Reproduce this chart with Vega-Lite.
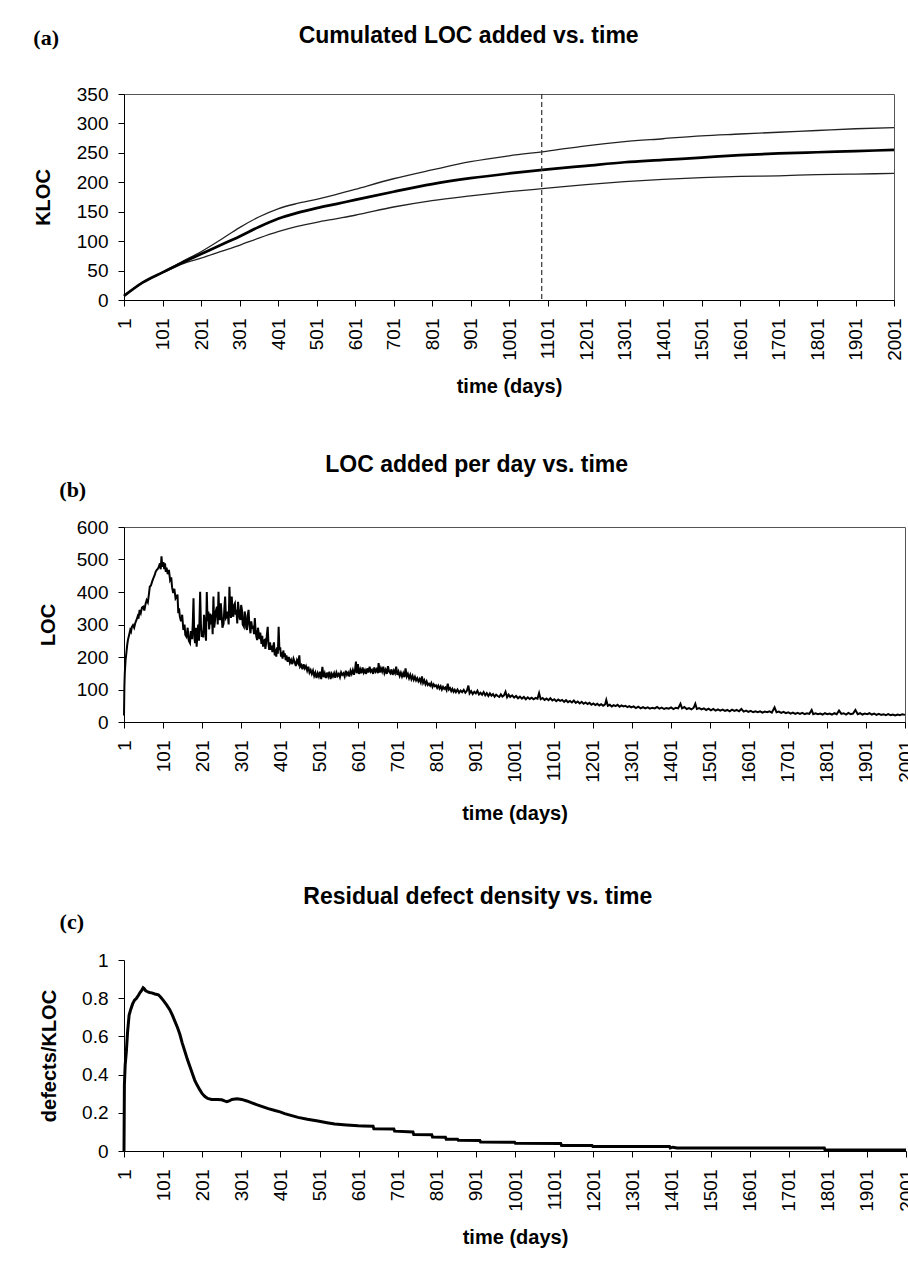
{
  "$schema": "https://vega.github.io/schema/vega-lite/v6.json",
  "background": "white",
  "padding": {"left": 32, "top": 24, "right": 0, "bottom": 0},
  "spacing": 56,
  "config": {
    "font": "Liberation Sans",
    "view": {"stroke": "#555", "strokeWidth": 1},
    "axis": {
      "labelFont": "Liberation Sans", "labelFontSize": 19, "labelColor": "black",
      "titleFont": "Liberation Sans", "titleFontSize": 20, "titleFontWeight": "bold", "titleColor": "black",
      "domainColor": "black", "tickColor": "black", "tickSize": 6, "grid": false, "labelPadding": 10,
      "labelFlush": false, "labelOverlap": false, "labelBound": false
    },
    "axisX": {"labelAngle": -90, "labelPadding": 12, "titlePadding": 16, "format": "d", "labelOverlap": false},
    "title": {"font": "Liberation Sans", "fontSize": 23, "fontWeight": "bold", "color": "black"}
  },
  "datasets": {
    "cum": [
      {"t": 1, "mid": 7, "up": 7, "low": 7},
      {"t": 50, "mid": 30, "up": 30, "low": 30},
      {"t": 101, "mid": 47, "up": 47, "low": 46},
      {"t": 151, "mid": 63, "up": 65, "low": 61},
      {"t": 201, "mid": 78, "up": 82, "low": 71},
      {"t": 251, "mid": 93, "up": 102, "low": 82},
      {"t": 301, "mid": 108, "up": 123, "low": 93},
      {"t": 351, "mid": 124, "up": 141, "low": 105},
      {"t": 401, "mid": 138, "up": 155, "low": 116},
      {"t": 451, "mid": 148, "up": 164, "low": 125},
      {"t": 501, "mid": 156, "up": 171, "low": 132},
      {"t": 551, "mid": 163, "up": 179, "low": 138},
      {"t": 601, "mid": 170, "up": 188, "low": 144},
      {"t": 701, "mid": 184, "up": 206, "low": 158},
      {"t": 801, "mid": 197, "up": 221, "low": 169},
      {"t": 901, "mid": 207, "up": 235, "low": 177},
      {"t": 1001, "mid": 215, "up": 245, "low": 184},
      {"t": 1101, "mid": 222, "up": 253, "low": 190},
      {"t": 1201, "mid": 228, "up": 262, "low": 196},
      {"t": 1301, "mid": 234, "up": 269, "low": 201},
      {"t": 1401, "mid": 238, "up": 274, "low": 205},
      {"t": 1501, "mid": 242, "up": 279, "low": 208},
      {"t": 1601, "mid": 246, "up": 282, "low": 210},
      {"t": 1701, "mid": 249, "up": 285, "low": 211},
      {"t": 1801, "mid": 251, "up": 288, "low": 213},
      {"t": 1901, "mid": 253, "up": 291, "low": 214},
      {"t": 2001, "mid": 255, "up": 293, "low": 215}
    ],
    "marker": [{"t": 1086}],
    "perday": [
      {"t":1,"v":20},{"t":2,"v":110},{"t":3,"v":150},{"t":5,"v":190},{"t":7,"v":212},{"t":9,"v":235},{"t":11,"v":252},{"t":13,"v":262},{"t":15,"v":272},{"t":17,"v":283},{"t":19,"v":278},{"t":21,"v":292},{"t":24,"v":298},{"t":27,"v":290},{"t":30,"v":305},{"t":33,"v":314},{"t":36,"v":325},{"t":38,"v":318},{"t":41,"v":345},{"t":44,"v":335},{"t":47,"v":352},{"t":50,"v":355},{"t":53,"v":343},{"t":56,"v":362},{"t":59,"v":375},{"t":62,"v":368},{"t":65,"v":395},{"t":67,"v":416},{"t":70,"v":420},{"t":73,"v":432},{"t":76,"v":442},{"t":79,"v":450},{"t":82,"v":462},{"t":85,"v":468},{"t":88,"v":472},{"t":91,"v":480},{"t":93,"v":488},{"t":95,"v":470},{"t":97,"v":510},{"t":99,"v":478},{"t":102,"v":492},{"t":104,"v":470},{"t":106,"v":488},{"t":108,"v":462},{"t":110,"v":475},{"t":113,"v":455},{"t":116,"v":468},{"t":119,"v":437},{"t":122,"v":445},{"t":124,"v":415},{"t":127,"v":397},{"t":130,"v":410},{"t":133,"v":380},{"t":136,"v":386},{"t":138,"v":392},{"t":140,"v":335},{"t":142,"v":350},{"t":144,"v":324},{"t":147,"v":310},{"t":150,"v":330},
      {"t":153,"v":283},{"t":156,"v":300},{"t":158,"v":268},{"t":161,"v":262},{"t":164,"v":290},{"t":167,"v":250},{"t":170,"v":243},{"t":172,"v":280},{"t":175,"v":255},{"t":177,"v":300},{"t":179,"v":381},{"t":181,"v":260},{"t":183,"v":243},{"t":185,"v":290},{"t":187,"v":232},{"t":189,"v":270},{"t":191,"v":300},{"t":193,"v":250},{"t":196,"v":401},{"t":198,"v":300},{"t":200,"v":262},{"t":202,"v":280},{"t":204,"v":260},{"t":206,"v":330},{"t":208,"v":300},{"t":211,"v":250},{"t":213,"v":400},{"t":215,"v":310},{"t":217,"v":340},{"t":219,"v":285},{"t":222,"v":334},{"t":224,"v":300},{"t":226,"v":330},{"t":228,"v":270},{"t":230,"v":386},{"t":232,"v":290},{"t":234,"v":310},{"t":236,"v":340},{"t":239,"v":355},{"t":241,"v":300},{"t":243,"v":401},{"t":245,"v":320},{"t":247,"v":314},{"t":249,"v":365},{"t":251,"v":330},{"t":253,"v":290},{"t":256,"v":303},{"t":258,"v":350},{"t":260,"v":386},{"t":262,"v":320},{"t":264,"v":324},{"t":266,"v":340},{"t":269,"v":300},{"t":271,"v":416},{"t":273,"v":345},{"t":275,"v":320},{"t":277,"v":386},{"t":279,"v":330},{"t":281,"v":324},{"t":283,"v":360},{"t":285,"v":365},{"t":287,"v":330},{"t":289,"v":345},{"t":291,"v":303},{"t":293,"v":370},{"t":295,"v":345},{"t":297,"v":320},{"t":299,"v":314},{"t":301,"v":360},{"t":303,"v":345},{"t":305,"v":300},{"t":308,"v":293},{"t":310,"v":340},{"t":312,"v":324},{"t":314,"v":290},{"t":316,"v":283},{"t":318,"v":330},{"t":320,"v":345},{"t":322,"v":300},{"t":325,"v":273},{"t":327,"v":310},{"t":329,"v":290},{"t":332,"v":293},{"t":334,"v":270},{"t":336,"v":320},{"t":338,"v":280},{"t":340,"v":262},{"t":342,"v":252},{"t":344,"v":290},{"t":346,"v":273},{"t":348,"v":255},{"t":350,"v":275},{"t":353,"v":240},{"t":355,"v":265},{"t":357,"v":232},{"t":359,"v":250},{"t":361,"v":252},{"t":363,"v":225},{"t":365,"v":243},{"t":367,"v":270},{"t":369,"v":293},{"t":371,"v":240},{"t":373,"v":222},{"t":375,"v":245},{"t":377,"v":222},{"t":379,"v":235},{"t":381,"v":215},{"t":383,"v":232},{"t":385,"v":245},{"t":387,"v":205},{"t":389,"v":225},{"t":391,"v":201},{"t":393,"v":230},{"t":395,"v":210},{"t":397,"v":293},{"t":399,"v":222},{"t":401,"v":230},{"t":403,"v":201},{"t":405,"v":215},{"t":407,"v":195},{"t":409,"v":220},{"t":411,"v":201},{"t":413,"v":211},{"t":415,"v":190},{"t":417,"v":205},
      {"t":420,"v":185},{"t":423,"v":200},{"t":426,"v":182},{"t":429,"v":191},{"t":432,"v":178},{"t":435,"v":195},{"t":438,"v":185},{"t":441,"v":172},{"t":444,"v":190},{"t":447,"v":181},{"t":450,"v":205},{"t":452,"v":170},{"t":455,"v":175},{"t":458,"v":162},{"t":461,"v":178},{"t":464,"v":165},{"t":467,"v":172},{"t":470,"v":158},{"t":473,"v":170},{"t":476,"v":152},{"t":479,"v":160},{"t":482,"v":148},{"t":485,"v":158},{"t":488,"v":142},{"t":491,"v":152},{"t":494,"v":135},{"t":497,"v":150},{"t":500,"v":140},{"t":503,"v":155},{"t":506,"v":132},{"t":509,"v":170},{"t":512,"v":138},{"t":515,"v":150},{"t":518,"v":135},{"t":521,"v":152},{"t":524,"v":140},{"t":527,"v":155},{"t":530,"v":132},{"t":533,"v":148},{"t":536,"v":140},{"t":539,"v":150},{"t":542,"v":136},{"t":545,"v":152},{"t":548,"v":142},{"t":551,"v":148},{"t":554,"v":138},{"t":557,"v":153},{"t":560,"v":145},{"t":563,"v":150},{"t":566,"v":140},{"t":569,"v":158},{"t":572,"v":145},{"t":575,"v":152},{"t":578,"v":140},{"t":581,"v":158},{"t":584,"v":148},{"t":587,"v":160},{"t":590,"v":145},{"t":593,"v":165},{"t":595,"v":186},{"t":597,"v":150},{"t":600,"v":178},{"t":603,"v":148},{"t":606,"v":162},{"t":609,"v":150},{"t":612,"v":168},{"t":615,"v":152},{"t":618,"v":160},{"t":621,"v":148},{"t":624,"v":165},{"t":627,"v":152},{"t":630,"v":170},{"t":633,"v":155},{"t":636,"v":160},{"t":639,"v":148},{"t":642,"v":168},{"t":645,"v":155},{"t":648,"v":162},{"t":651,"v":150},{"t":653,"v":181},{"t":656,"v":152},{"t":659,"v":165},{"t":662,"v":155},{"t":665,"v":170},{"t":668,"v":150},{"t":671,"v":160},{"t":674,"v":148},{"t":677,"v":172},{"t":680,"v":155},{"t":683,"v":150},{"t":686,"v":162},{"t":689,"v":145},{"t":692,"v":158},{"t":695,"v":150},{"t":698,"v":170},{"t":701,"v":145},{"t":704,"v":155},{"t":707,"v":142},{"t":710,"v":152},{"t":713,"v":140},{"t":716,"v":150},{"t":719,"v":138},{"t":722,"v":165},{"t":725,"v":140},{"t":728,"v":148},{"t":731,"v":135},{"t":734,"v":145},{"t":737,"v":132},{"t":740,"v":142},{"t":743,"v":130},{"t":746,"v":139},{"t":749,"v":128},{"t":752,"v":135},{"t":755,"v":125},{"t":758,"v":132},{"t":761,"v":122},{"t":764,"v":140},{"t":767,"v":120},{"t":770,"v":128},{"t":773,"v":116},{"t":776,"v":125},{"t":779,"v":114},{"t":782,"v":118},{"t":785,"v":112},{"t":788,"v":120},{"t":791,"v":108},{"t":794,"v":116},{"t":797,"v":110},{"t":800,"v":113},{"t":803,"v":105},{"t":806,"v":112},{"t":809,"v":103},{"t":812,"v":110},{"t":815,"v":100},{"t":818,"v":108},{"t":821,"v":102},{"t":824,"v":106},{"t":827,"v":98},{"t":830,"v":118},{"t":833,"v":100},{"t":836,"v":104},{"t":839,"v":95},{"t":842,"v":102},{"t":845,"v":93},{"t":848,"v":99},{"t":851,"v":92},{"t":855,"v":100},{"t":859,"v":90},{"t":863,"v":97},{"t":867,"v":92},{"t":871,"v":99},{"t":875,"v":90},{"t":879,"v":96},{"t":883,"v":112},{"t":886,"v":88},{"t":890,"v":95},{"t":894,"v":86},{"t":898,"v":93},{"t":902,"v":88},{"t":906,"v":96},{"t":910,"v":85},{"t":914,"v":90},{"t":918,"v":84},{"t":922,"v":92},{"t":926,"v":82},{"t":930,"v":89},{"t":934,"v":80},{"t":938,"v":88},{"t":942,"v":81},{"t":946,"v":86},{"t":950,"v":78},{"t":954,"v":84},{"t":958,"v":80},{"t":962,"v":77},{"t":966,"v":85},{"t":970,"v":78},{"t":974,"v":82},{"t":978,"v":93},{"t":982,"v":76},{"t":986,"v":84},{"t":990,"v":77},{"t":995,"v":82},
      {"t":1000,"v":75},{"t":1005,"v":80},{"t":1010,"v":73},{"t":1015,"v":78},{"t":1020,"v":72},{"t":1025,"v":77},{"t":1030,"v":70},{"t":1035,"v":76},{"t":1040,"v":71},{"t":1045,"v":75},{"t":1050,"v":70},{"t":1055,"v":74},{"t":1060,"v":72},{"t":1064,"v":89},{"t":1068,"v":70},{"t":1073,"v":74},{"t":1078,"v":68},{"t":1083,"v":72},{"t":1088,"v":67},{"t":1093,"v":73},{"t":1098,"v":66},{"t":1103,"v":70},{"t":1108,"v":64},{"t":1113,"v":69},{"t":1118,"v":65},{"t":1123,"v":68},{"t":1128,"v":62},{"t":1133,"v":67},{"t":1138,"v":61},{"t":1143,"v":65},{"t":1148,"v":60},{"t":1153,"v":66},{"t":1158,"v":59},{"t":1163,"v":63},{"t":1168,"v":57},{"t":1173,"v":62},{"t":1178,"v":56},{"t":1183,"v":60},{"t":1188,"v":55},{"t":1193,"v":59},{"t":1198,"v":53},{"t":1203,"v":57},{"t":1208,"v":52},{"t":1213,"v":56},{"t":1218,"v":51},{"t":1223,"v":55},{"t":1228,"v":50},{"t":1233,"v":54},{"t":1236,"v":68},{"t":1240,"v":50},{"t":1245,"v":53},{"t":1250,"v":48},{"t":1255,"v":52},{"t":1260,"v":49},{"t":1265,"v":53},{"t":1270,"v":47},{"t":1275,"v":51},{"t":1280,"v":48},{"t":1285,"v":50},{"t":1290,"v":46},{"t":1295,"v":49},{"t":1300,"v":45},{"t":1306,"v":48},{"t":1312,"v":43},{"t":1318,"v":47},{"t":1324,"v":42},{"t":1330,"v":46},{"t":1336,"v":42},{"t":1342,"v":45},{"t":1348,"v":41},{"t":1354,"v":44},{"t":1360,"v":42},{"t":1366,"v":46},{"t":1372,"v":41},{"t":1378,"v":44},{"t":1384,"v":40},{"t":1390,"v":43},{"t":1396,"v":41},{"t":1402,"v":45},{"t":1408,"v":40},{"t":1414,"v":44},{"t":1420,"v":42},{"t":1426,"v":56},{"t":1430,"v":42},{"t":1436,"v":46},{"t":1442,"v":40},{"t":1448,"v":43},{"t":1454,"v":39},{"t":1460,"v":44},{"t":1464,"v":56},{"t":1468,"v":40},{"t":1474,"v":43},{"t":1480,"v":39},{"t":1486,"v":42},{"t":1492,"v":37},{"t":1498,"v":41},{"t":1504,"v":36},{"t":1510,"v":40},{"t":1516,"v":35},{"t":1522,"v":39},{"t":1528,"v":35},{"t":1534,"v":38},{"t":1540,"v":34},{"t":1546,"v":37},{"t":1552,"v":33},{"t":1558,"v":38},{"t":1564,"v":34},{"t":1570,"v":37},{"t":1576,"v":33},{"t":1582,"v":40},{"t":1588,"v":32},{"t":1594,"v":35},{"t":1600,"v":31},{"t":1606,"v":34},{"t":1612,"v":30},{"t":1618,"v":33},{"t":1624,"v":30},{"t":1630,"v":33},{"t":1636,"v":29},{"t":1642,"v":32},{"t":1648,"v":30},{"t":1654,"v":33},{"t":1660,"v":29},{"t":1667,"v":45},{"t":1672,"v":30},{"t":1678,"v":32},{"t":1684,"v":28},{"t":1690,"v":31},{"t":1696,"v":27},{"t":1702,"v":30},{"t":1708,"v":26},{"t":1714,"v":29},{"t":1720,"v":25},{"t":1726,"v":28},{"t":1732,"v":25},{"t":1738,"v":28},{"t":1744,"v":24},{"t":1750,"v":27},{"t":1756,"v":25},{"t":1762,"v":37},{"t":1766,"v":24},{"t":1772,"v":27},{"t":1778,"v":24},{"t":1784,"v":26},{"t":1790,"v":23},{"t":1796,"v":27},{"t":1802,"v":24},{"t":1808,"v":26},{"t":1814,"v":23},{"t":1820,"v":27},{"t":1826,"v":24},{"t":1832,"v":35},{"t":1838,"v":25},{"t":1844,"v":27},{"t":1850,"v":23},{"t":1856,"v":28},{"t":1862,"v":24},{"t":1868,"v":26},{"t":1874,"v":37},{"t":1880,"v":24},{"t":1886,"v":27},{"t":1892,"v":23},{"t":1898,"v":26},{"t":1904,"v":24},{"t":1910,"v":27},{"t":1916,"v":23},{"t":1922,"v":26},{"t":1928,"v":22},{"t":1934,"v":25},{"t":1940,"v":22},{"t":1946,"v":24},{"t":1952,"v":21},{"t":1958,"v":24},{"t":1964,"v":21},{"t":1970,"v":23},{"t":1976,"v":20},{"t":1982,"v":23},{"t":1988,"v":21},{"t":1994,"v":24},{"t":2001,"v":22}
    ],
    "density": [
      {"t":1,"v":0},{"t":2,"v":0.345},{"t":4,"v":0.45},{"t":7,"v":0.52},{"t":10,"v":0.62},{"t":14,"v":0.71},{"t":18,"v":0.74},{"t":23,"v":0.77},{"t":28,"v":0.79},{"t":33,"v":0.8},{"t":38,"v":0.815},{"t":42,"v":0.83},{"t":46,"v":0.84},{"t":50,"v":0.855},{"t":53,"v":0.85},{"t":56,"v":0.84},{"t":60,"v":0.835},{"t":66,"v":0.83},{"t":72,"v":0.828},{"t":80,"v":0.822},{"t":89,"v":0.818},{"t":95,"v":0.805},{"t":101,"v":0.79},{"t":110,"v":0.765},{"t":118,"v":0.74},{"t":125,"v":0.71},{"t":131,"v":0.68},{"t":138,"v":0.645},{"t":144,"v":0.61},{"t":150,"v":0.565},{"t":157,"v":0.52},{"t":163,"v":0.48},{"t":170,"v":0.44},{"t":176,"v":0.405},{"t":182,"v":0.37},{"t":188,"v":0.345},{"t":195,"v":0.32},{"t":201,"v":0.3},{"t":208,"v":0.285},{"t":215,"v":0.275},{"t":225,"v":0.27},{"t":240,"v":0.27},{"t":251,"v":0.268},{"t":258,"v":0.262},{"t":264,"v":0.258},{"t":270,"v":0.262},{"t":277,"v":0.27},{"t":290,"v":0.273},{"t":302,"v":0.27},{"t":315,"v":0.262},{"t":328,"v":0.252},{"t":340,"v":0.243},{"t":353,"v":0.234},{"t":370,"v":0.222},{"t":387,"v":0.212},{"t":400,"v":0.205},{"t":412,"v":0.196},{"t":430,"v":0.185},{"t":446,"v":0.176},{"t":470,"v":0.166},{"t":497,"v":0.157},{"t":520,"v":0.148},{"t":540,"v":0.141},{"t":570,"v":0.136},{"t":600,"v":0.132},{"t":613,"v":0.131},{"t":638,"v":0.13},{"t":640,"v":0.116},{"t":691,"v":0.115},{"t":693,"v":0.104},{"t":740,"v":0.1},{"t":742,"v":0.086},{"t":788,"v":0.085},{"t":790,"v":0.073},{"t":823,"v":0.072},{"t":825,"v":0.062},{"t":854,"v":0.061},{"t":856,"v":0.056},{"t":911,"v":0.055},{"t":913,"v":0.047},{"t":1000,"v":0.046},{"t":1002,"v":0.04},{"t":1118,"v":0.039},{"t":1120,"v":0.029},{"t":1198,"v":0.029},{"t":1200,"v":0.024},{"t":1396,"v":0.024},{"t":1398,"v":0.016},{"t":1405,"v":0.02},{"t":1415,"v":0.016},{"t":1792,"v":0.016},{"t":1794,"v":0.005},{"t":2001,"v":0.005}
    ]
  },
  "vconcat": [
    {
      "title": {"text": "Cumulated LOC added vs. time", "anchor": "middle", "frame": "bounds", "offset": -21},
      "vconcat": [
        {
          "title": {"text": "(a)", "anchor": "start", "frame": "bounds", "font": "Liberation Serif", "fontSize": 22, "fontWeight": "bold", "offset": 35},
          "width": 770,
          "height": 206,
          "data": {"name": "cum"},
          "layer": [
            {
              "mark": {"type": "line", "color": "#222", "strokeWidth": 1.3, "interpolate": "monotone"},
              "encoding": {
                "x": {"field": "t", "type": "quantitative", "scale": {"domain": [1, 2001], "nice": false, "zero": false},
                      "axis": {"title": "time (days)", "labelOverlap": false, "values": [1,101,201,301,401,501,601,701,801,901,1001,1101,1201,1301,1401,1501,1601,1701,1801,1901,2001]}},
                "y": {"field": "up", "type": "quantitative", "scale": {"domain": [0, 350], "nice": false},
                      "axis": {"title": "KLOC", "values": [0,50,100,150,200,250,300,350], "titlePadding": 23}}
              }
            },
            {
              "mark": {"type": "line", "color": "#222", "strokeWidth": 1.3, "interpolate": "monotone"},
              "encoding": {
                "x": {"field": "t", "type": "quantitative", "scale": {"domain": [1, 2001], "nice": false, "zero": false},
                      "axis": {"title": "time (days)", "labelOverlap": false, "values": [1,101,201,301,401,501,601,701,801,901,1001,1101,1201,1301,1401,1501,1601,1701,1801,1901,2001]}},
                "y": {"field": "low", "type": "quantitative", "scale": {"domain": [0, 350], "nice": false},
                      "axis": {"title": "KLOC", "values": [0,50,100,150,200,250,300,350], "titlePadding": 23}}
              }
            },
            {
              "mark": {"type": "line", "color": "black", "strokeWidth": 2.7, "interpolate": "monotone"},
              "encoding": {
                "x": {"field": "t", "type": "quantitative", "scale": {"domain": [1, 2001], "nice": false, "zero": false},
                      "axis": {"title": "time (days)", "labelOverlap": false, "values": [1,101,201,301,401,501,601,701,801,901,1001,1101,1201,1301,1401,1501,1601,1701,1801,1901,2001]}},
                "y": {"field": "mid", "type": "quantitative", "scale": {"domain": [0, 350], "nice": false},
                      "axis": {"title": "KLOC", "values": [0,50,100,150,200,250,300,350], "titlePadding": 23}}
              }
            },
            {
              "data": {"name": "marker"},
              "mark": {"type": "rule", "color": "#333", "strokeWidth": 1.2, "strokeDash": [5, 3]},
              "encoding": {
                "x": {"field": "t", "type": "quantitative", "scale": {"domain": [1, 2001], "nice": false, "zero": false},
                      "axis": {"title": "time (days)", "labelOverlap": false, "values": [1,101,201,301,401,501,601,701,801,901,1001,1101,1201,1301,1401,1501,1601,1701,1801,1901,2001]}}
              }
            }
          ]
        }
      ]
    },
    {
      "spacing": 62,
      "vconcat": [
        {
          "title": {"text": "LOC added per day vs. time", "anchor": "middle", "frame": "bounds", "offset": 2},
          "vconcat": [
            {
              "title": {"text": "(b)", "anchor": "start", "frame": "bounds", "font": "Liberation Serif", "fontSize": 22, "fontWeight": "bold", "offset": 16, "dx": 21},
              "width": 781,
              "height": 195,
              "data": {"name": "perday"},
              "mark": {"type": "line", "color": "black", "strokeWidth": 2},
              "encoding": {
                "x": {"field": "t", "type": "quantitative", "scale": {"domain": [1, 2001], "nice": false, "zero": false},
                      "axis": {"title": "time (days)", "titlePadding": 21, "labelOverlap": false, "values": [1,101,201,301,401,501,601,701,801,901,1001,1101,1201,1301,1401,1501,1601,1701,1801,1901,2001]}},
                "y": {"field": "v", "type": "quantitative", "scale": {"domain": [0, 600], "nice": false},
                      "axis": {"title": "LOC", "values": [0,100,200,300,400,500,600], "titlePadding": 18}}
              }
            }
          ]
        },
        {
          "title": {"text": "Residual defect density vs. time", "anchor": "middle", "frame": "bounds", "offset": 2},
          "vconcat": [
            {
              "title": {"text": "(c)", "anchor": "start", "frame": "bounds", "font": "Liberation Serif", "fontSize": 22, "fontWeight": "bold", "offset": 17, "dx": 20},
              "width": 782,
              "height": 191,
              "view": {"stroke": null},
              "data": {"name": "density"},
              "mark": {"type": "line", "color": "black", "strokeWidth": 3},
              "encoding": {
                "x": {"field": "t", "type": "quantitative", "scale": {"domain": [1, 2001], "nice": false, "zero": false},
                      "axis": {"title": "time (days)", "labelOverlap": false, "values": [1,101,201,301,401,501,601,701,801,901,1001,1101,1201,1301,1401,1501,1601,1701,1801,1901,2001]}},
                "y": {"field": "v", "type": "quantitative", "scale": {"domain": [0, 1], "nice": false},
                      "axis": {"title": "defects/KLOC", "values": [0,0.2,0.4,0.6,0.8,1], "format": "~g", "titlePadding": 22}}
              }
            }
          ]
        }
      ]
    }
  ]
}
